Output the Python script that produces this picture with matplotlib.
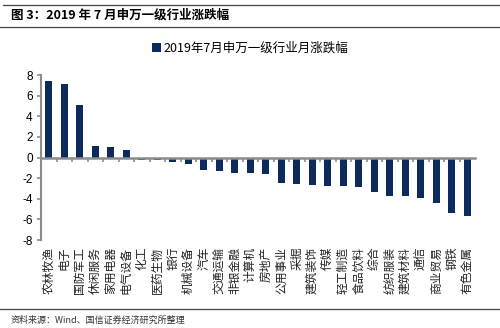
import numpy as np
import matplotlib.pyplot as plt
from matplotlib.lines import Line2D
from matplotlib.transforms import blended_transform_factory

plt.rcParams['font.family'] = ['Noto Sans CJK SC', 'DejaVu Sans']

# industries (Shenwan level 1) and July 2019 monthly change (%)
industries = ['农林牧渔', '电子', '国防军工', '休闲服务', '家用电器', '电气设备', '化工',
              '医药生物', '银行', '机械设备', '汽车', '交通运输', '非银金融', '计算机',
              '房地产', '公用事业', '采掘', '建筑装饰', '传媒', '轻工制造', '食品饮料',
              '综合', '纺织服装', '建筑材料', '通信', '商业贸易', '钢铁', '有色金属']
changes = [7.42, 7.10, 5.10, 1.16, 1.03, 0.74, -0.20, -0.22, -0.40, -0.58, -1.20,
           -1.32, -1.48, -1.52, -1.60, -2.50, -2.60, -2.70, -2.75, -2.75, -2.85,
           -3.30, -3.75, -3.75, -3.90, -4.40, -5.40, -5.70]
yticks = [-8, -6, -4, -2, 0, 2, 4, 6, 8]

bar_color = '#0C2A5B'
grey = '#8C8C8C'

fig = plt.figure(figsize=(5, 3.28), dpi=100)
ax = fig.add_axes([0.082, 0.268, 0.868, 0.503])

x = np.arange(len(industries))
ax.bar(x, changes, width=0.45, color=bar_color, label='2019年7月申万一级行业月涨跌幅')

ax.set_xlim(-0.5, len(industries) - 0.5)
ax.set_ylim(-8, 8)
ax.set_yticks(yticks)
ax.set_yticklabels([str(v) for v in yticks], fontsize=8.5, family='Liberation Sans')
ax.tick_params(axis='y', length=3, color=grey, width=1.2, pad=3)

ax.spines['top'].set_visible(False)
ax.spines['right'].set_visible(False)
ax.spines['left'].set_color(grey)
ax.spines['left'].set_linewidth(1.5)
ax.spines['bottom'].set_position(('data', 0))
ax.spines['bottom'].set_color(grey)
ax.spines['bottom'].set_linewidth(1.8)
ax.set_xticks(x[:-1] + 0.5)
ax.set_xticklabels([])
ax.tick_params(axis='x', length=3, color=grey, width=1.2, direction='out')

# rotated category labels, end of text at the top
trans = blended_transform_factory(ax.transData, fig.transFigure)
for i, name in enumerate(industries):
    ax.text(i, 1 - 247 / 328, name, transform=trans, rotation=90,
            ha='center', va='top', fontsize=8.5, color='#222222')

ax.legend(loc='center', bbox_to_anchor=(0.5, 1 - 48 / 328), bbox_transform=fig.transFigure,
          frameon=False, fontsize=9, handlelength=0.7, handleheight=0.7, handletextpad=0.2)

# header and footer
fig.add_artist(Line2D([0.006, 1.0], [1 - 4.5 / 328] * 2, color='#444444', lw=0.9))
fig.add_artist(Line2D([0.0, 1.0], [1 - 27 / 328] * 2, color='#444444', lw=0.9))
fig.text(0.022, 1 - 15.5 / 328, '图 3：2019 年 7 月申万一级行业涨跌幅', fontsize=9,
         fontweight='bold', va='center', ha='left')
fig.add_artist(Line2D([0.0, 1.0], [1 - 309 / 328] * 2, color='#444444', lw=0.9))
fig.text(0.022, 1 - 320 / 328, '资料来源：Wind、国信证券经济研究所整理', fontsize=6.5,
         va='center', ha='left', color='#333333')

fig.savefig('out.png', dpi=100)
